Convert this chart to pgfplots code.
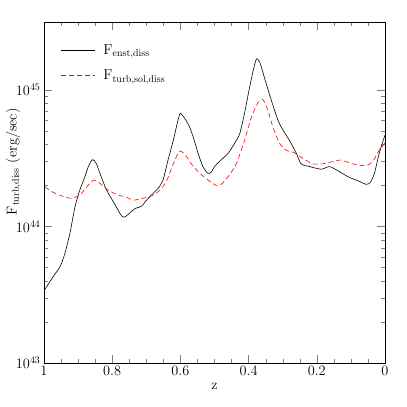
\documentclass[border=0pt]{standalone}
\usepackage{pgfplots}
\pgfplotsset{compat=1.18}
\begin{document}
\begin{tikzpicture}
\begin{axis}[
  name=ax, scale only axis, width=341bp, height=341bp,
  x dir=reverse, xmin=0, xmax=1, ymode=log, ymin=1e43, ymax=3.16e45,
  xtick={0,0.2,0.4,0.6,0.8,1}, minor x tick num=3,
  ytick={1e43,1e44,1e45},
  tick align=inside, major tick length=8bp, minor tick length=4bp,
  tick label style={font=\Large},
  xlabel={z}, ylabel={$\mathrm{F}_{\mathrm{turb,diss}}$ (erg/sec)},
  every axis x label/.style={at={(axis description cs:0.5,-0.07)},anchor=center,font=\Large},
  every axis y label/.style={at={(axis description cs:-0.09,0.59)},rotate=90,anchor=center,font=\Large},
  legend style={at={(axis description cs:0.04,0.945)}, anchor=north west,
    row sep=10bp, font=\Large, cells={anchor=west}, draw=white, fill=white},
  ]
\addplot[black, line width=0.6pt, smooth, tension=0.4,
  legend image code/.code={\draw[draw=black, line width=0.7pt] (0bp,0bp) -- (34bp,0bp); \path (40bp,0bp);}] coordinates {
(0.997,3.47e43) (0.973,4.29e43) (0.953,5.08e43) (0.939,6.31e43) (0.924,8.91e43) (0.909,1.40e44)
(0.895,1.85e44) (0.880,2.32e44) (0.870,2.75e44) (0.858,3.09e44) (0.846,2.88e44) (0.836,2.45e44)
(0.817,1.86e44) (0.792,1.45e44) (0.773,1.20e44) (0.763,1.175e44) (0.748,1.26e44) (0.734,1.35e44)
(0.714,1.41e44) (0.700,1.55e44) (0.685,1.70e44) (0.665,1.91e44) (0.651,2.19e44) (0.636,3.09e44)
(0.621,4.27e44) (0.607,6.03e44) (0.600,6.76e44) (0.587,6.17e44) (0.575,5.50e44) (0.563,4.57e44)
(0.548,3.44e44) (0.534,2.75e44) (0.519,2.45e44) (0.509,2.51e44) (0.500,2.75e44) (0.480,3.09e44)
(0.460,3.44e44) (0.441,4.07e44) (0.426,4.79e44) (0.412,6.76e44) (0.397,1.05e45) (0.384,1.48e45)
(0.376,1.70e45) (0.366,1.57e45) (0.353,1.22e45) (0.334,8.51e44) (0.314,6.03e44) (0.300,5.13e44)
(0.280,4.27e44) (0.260,3.44e44) (0.246,2.88e44) (0.221,2.75e44) (0.187,2.63e44) (0.163,2.75e44)
(0.139,2.57e44) (0.109,2.32e44) (0.075,2.14e44) (0.056,2.04e44) (0.044,2.09e44) (0.031,2.45e44)
(0.017,3.44e44) (0.0,4.68e44)
};
\addplot[red, dash pattern=on 5bp off 3bp, line width=0.6pt, smooth, tension=0.4,
  legend image code/.code={\draw[draw=red, dash pattern=on 5bp off 3bp, line width=0.7pt] (0bp,0bp) -- (34bp,0bp); \path (40bp,0bp);}] coordinates {
(0.997,1.95e44) (0.973,1.78e44) (0.943,1.66e44) (0.919,1.61e44) (0.895,1.70e44) (0.875,1.95e44)
(0.860,2.14e44) (0.851,2.19e44) (0.836,2.07e44) (0.812,1.85e44) (0.782,1.70e44) (0.758,1.64e44)
(0.739,1.56e44) (0.709,1.61e44) (0.680,1.70e44) (0.660,1.85e44) (0.641,2.14e44) (0.621,2.88e44)
(0.607,3.44e44) (0.600,3.57e44) (0.587,3.39e44) (0.568,2.88e44) (0.543,2.45e44) (0.519,2.19e44)
(0.495,2.00e44) (0.480,2.04e44) (0.460,2.32e44) (0.436,2.88e44) (0.412,4.27e44) (0.392,6.31e44)
(0.372,8.13e44) (0.358,8.51e44) (0.343,7.08e44) (0.329,5.37e44) (0.309,4.07e44) (0.290,3.63e44)
(0.266,3.47e44) (0.241,3.16e44) (0.212,2.88e44) (0.183,2.88e44) (0.153,2.99e44) (0.129,3.07e44)
(0.095,2.88e44) (0.056,2.79e44) (0.036,2.99e44) (0.017,3.63e44) (0.0,4.07e44)
};
\legend{$\mathrm{F}_{\mathrm{enst,diss}}$, $\mathrm{F}_{\mathrm{turb,sol,diss}}$}
\end{axis}
\pgfresetboundingbox
\path[use as bounding box] ([shift={(-44bp,-44bp)}]ax.south west) rectangle ([shift={(22bp,22bp)}]ax.north east);
\end{tikzpicture}
\end{document}
